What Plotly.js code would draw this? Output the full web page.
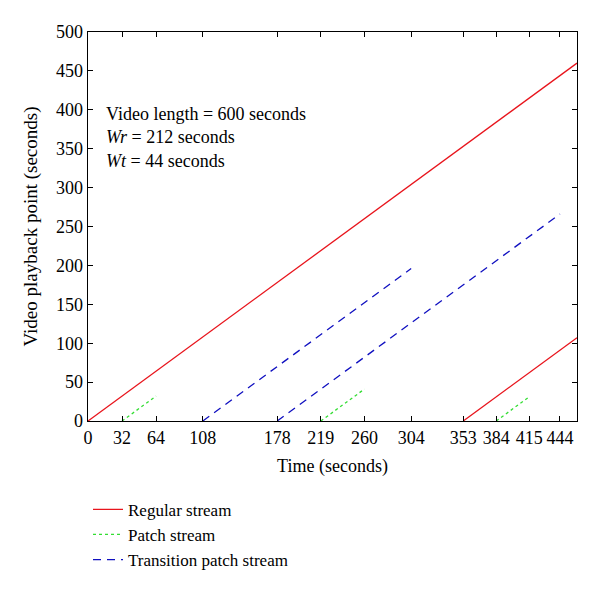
<!DOCTYPE html>
<html>
<head>
<meta charset="utf-8">
<script src="https://cdn.plot.ly/plotly-3.0.1.min.js"></script>
<style>
  html, body { margin: 0; padding: 0; background: #fff; }
  #graph { width: 600px; height: 595px; }
</style>
</head>
<body>
<div id="graph"></div>
<script>
// segments are separated by null
const regularX = [0, 460, null, 353, 460];
const regularY = [0, 460, null, 0, 107];

const patchX = [32, 64, null, 219, 260, null, 384, 415];
const patchY = [0, 32, null, 0, 41, null, 0, 31];

const transitionX = [108, 304, null, 178, 444];
const transitionY = [0, 196, null, 0, 266];

const xTicks = [0, 32, 64, 108, 178, 219, 260, 304, 353, 384, 415, 444];
const yTicks = [0, 50, 100, 150, 200, 250, 300, 350, 400, 450, 500];

const serif = 'Liberation Serif, Times New Roman, serif';

const regular = {
    x: regularX,
    y: regularY,
    mode: 'lines',
    name: 'Regular stream',
    line: {color: '#e8141c', width: 1.3},
    connectgaps: false,
};

const patch = {
    x: patchX,
    y: patchY,
    mode: 'lines',
    name: 'Patch stream',
    line: {color: '#33dd33', width: 1.3, dash: 'dot'},
    connectgaps: false,
};

const transition = {
    x: transitionX,
    y: transitionY,
    mode: 'lines',
    name: 'Transition patch stream',
    line: {color: '#1010c0', width: 1.3, dash: '8px,6px'},
    connectgaps: false,
};

const axisStyle = {
    showgrid: false,
    zeroline: false,
    showline: true,
    mirror: 'ticks',
    linecolor: '#000',
    linewidth: 1.3,
    ticks: 'inside',
    ticklen: 5,
    tickcolor: '#000',
    tickfont: {family: serif, size: 18, color: '#000'},
};

const layout = {
    width: 600,
    height: 595,
    margin: {l: 88, r: 23, t: 32, b: 174},
    paper_bgcolor: '#fff',
    plot_bgcolor: '#fff',
    font: {family: serif, color: '#000'},
    xaxis: Object.assign({}, axisStyle, {
        range: [0, 460],
        tickvals: xTicks,
        ticktext: xTicks.map(String),
        title: {text: 'Time (seconds)', font: {family: serif, size: 18}, standoff: 12},
    }),
    yaxis: Object.assign({}, axisStyle, {
        range: [0, 500],
        tickvals: yTicks,
        ticktext: yTicks.map(String),
        title: {text: 'Video playback point (seconds)', font: {family: serif, size: 19}, standoff: 13},
    }),
    showlegend: true,
    legend: {
        x: 0.0,
        xanchor: 'left',
        y: -0.182,
        yanchor: 'top',
        font: {family: serif, size: 17},
        bgcolor: 'rgba(0,0,0,0)',
        tracegroupgap: 0,
    },
    annotations: [
        {
            text: 'Video length = 600 seconds<br><i>Wr</i> = 212 seconds<br><i>Wt</i> = 44 seconds',
            xref: 'paper',
            yref: 'paper',
            x: 0.033,
            y: 0.82,
            xanchor: 'left',
            yanchor: 'top',
            align: 'left',
            showarrow: false,
            font: {family: serif, size: 18, color: '#000'},
        },
    ],
};

Plotly.newPlot('graph', [regular, patch, transition], layout, {displayModeBar: false, staticPlot: true});
</script>
</body>
</html>
